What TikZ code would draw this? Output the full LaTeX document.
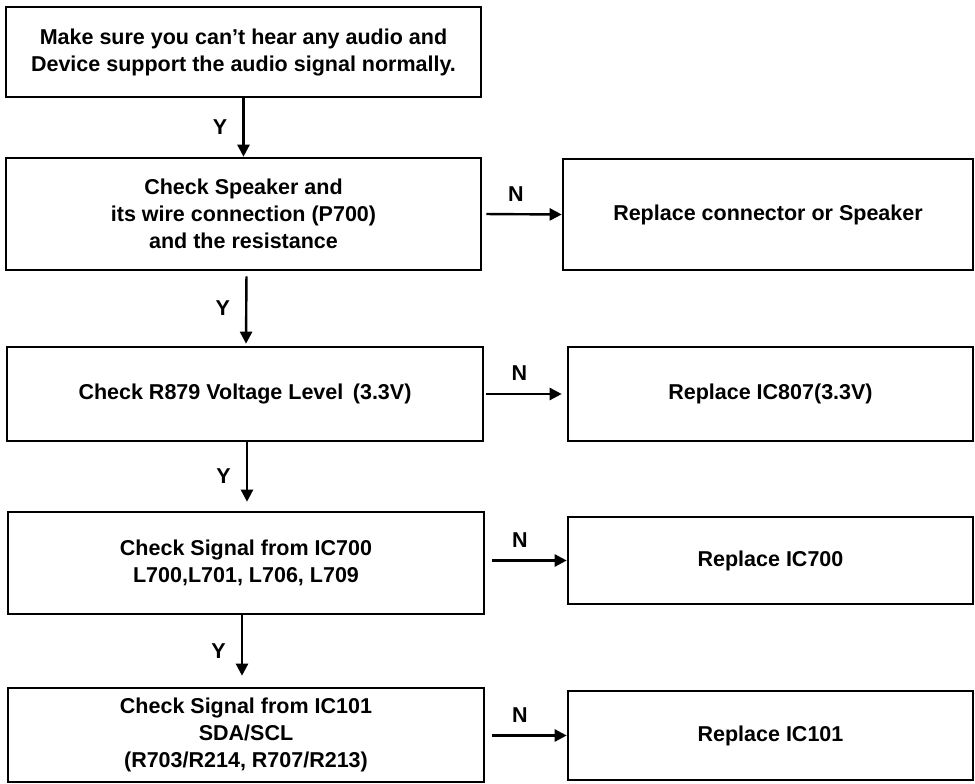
\documentclass[tikz,border=0pt]{standalone}
\usepackage{fontspec}
\setmainfont{Liberation Sans}
\usepackage{tikz}
\usetikzlibrary{positioning, arrows.meta}

\begin{document}
\begin{tikzpicture}[x=1pt, y=-1pt,
              box/.style = {shape=rectangle, draw, line width=2.6pt,
                align=center, inner sep=0pt,
                font=\bfseries\fontsize{21.5}{27}\selectfont},
              flow/.style = {line width=2.4pt,
                -{Triangle[length=12pt, width=12pt]}},
              lbl/.style = {inner sep=0pt, font=\bfseries\fontsize{21.5}{23}\selectfont}]
  \useasboundingbox (0,0) rectangle (975,784);
  % left column (checks)
  \node[box, minimum width=475pt, minimum height=90pt] (start) at (243.5,52)
    {Make sure you can't hear any audio and\\Device support the audio signal normally.};
  \node[box, minimum width=475pt, minimum height=112pt] (speaker) at (243.5,214)
    {Check Speaker and\\its wire connection (P700)\\and the resistance};
  \node[box, minimum width=476pt, minimum height=94pt] (volt) at (245,394)
    {Check R879 Voltage Level\ \,(3.3V)};
  \node[box, minimum width=476pt, minimum height=102pt] (ic700) at (246,563)
    {Check Signal from IC700\\L700,L701, L706, L709};
  \node[box, minimum width=476pt, minimum height=94pt] (ic101) at (246,735)
    {Check Signal from IC101\\SDA/SCL\\(R703/R214, R707/R213)};
  % right column (repairs)
  \node[box, minimum width=410pt, minimum height=111pt] (rspeaker) at (768,214.5)
    {Replace connector or Speaker};
  \node[box, minimum width=405pt, minimum height=94pt] (rvolt) at (770.5,394)
    {Replace IC807(3.3V)};
  \node[box, minimum width=405pt, minimum height=87pt] (ric700) at (770.5,560.5)
    {Replace IC700};
  \node[box, minimum width=405pt, minimum height=89pt] (ric101) at (770.5,735.5)
    {Replace IC101};

  % yes path
  \draw[flow] (start.south) -- node[lbl, midway, left=15pt] {Y} (speaker.north);
  \draw[flow, shorten <=5pt, shorten >=2pt] ([xshift=3pt]speaker.south) -- node[lbl, midway, left=15pt] {Y} ([xshift=1pt]volt.north);
  \draw[flow, shorten >=9pt] ([xshift=2pt]volt.south) -- node[lbl, midway, left=15pt] {Y} ([xshift=1pt]ic700.north);
  \draw[flow, shorten >=11pt] ([xshift=-4pt]ic700.south) -- node[lbl, midway, left=15pt] {Y} ([xshift=-4pt]ic101.north);

  % no path
  \draw[flow, shorten <=4pt] (speaker.east) -- node[lbl, midway, above=12pt, xshift=-6pt] {N} (rspeaker.west);
  \draw[flow, shorten <=2pt, shorten >=5pt] (volt.east) -- node[lbl, midway, above=12pt, xshift=-6pt] {N} (rvolt.west);
  \draw[flow, shorten <=7pt] (ic700.east |- ric700.west) -- node[lbl, midway, above=12pt, xshift=-6pt] {N} (ric700.west);
  \draw[flow, shorten <=7pt] (ic101.east |- ric101.west) -- node[lbl, midway, above=12pt, xshift=-6pt] {N} (ric101.west);
\end{tikzpicture}
\end{document}
